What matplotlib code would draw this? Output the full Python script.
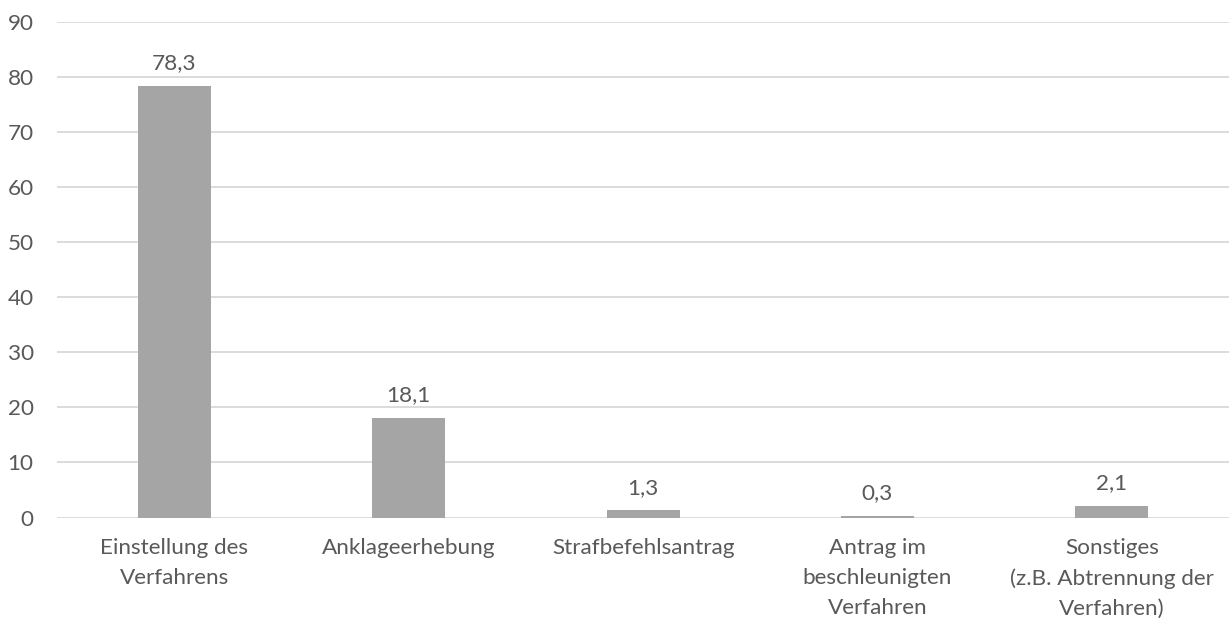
import matplotlib
matplotlib.use("Agg")
import matplotlib.pyplot as plt

categories = ["Einstellung des\nVerfahrens", "Anklageerhebung", "Strafbefehlsantrag",
              "Antrag im\nbeschleunigten\nVerfahren", "Sonstiges\n(z.B. Abtrennung der\nVerfahren)"]
values = [78.3, 18.1, 1.3, 0.3, 2.1]
yticks = [0, 10, 20, 30, 40, 50, 60, 70, 80, 90]

plt.rcParams['font.family'] = ['Lato', 'DejaVu Sans']
TXT = '#595959'
FS = 16.2

fig = plt.figure(figsize=(12.29, 6.19), dpi=100)
ax = fig.add_axes([57.3/1229, 1-517.5/619, 1-57.3/1229, (517.5-21.5)/619])

x = list(range(len(categories)))
bars = ax.bar(x, values, width=0.311, color='#A5A5A5', zorder=3)
for xi, v in zip(x, values):
    ax.annotate(f"{v:.1f}".replace('.', ','), (xi, v), xytext=(0, 9), textcoords='offset points',
                ha='center', va='bottom', fontsize=FS, color=TXT)

ax.set_xlim(-0.5, len(categories)-0.5)
ax.set_ylim(0, 90)
ax.set_yticks(yticks)
ax.set_yticklabels([str(t) for t in yticks])
ax.set_xticks(x)
ax.set_xticklabels(categories, linespacing=1.62)
ax.yaxis.grid(True, color='#D9D9D9', linewidth=1.3, zorder=0)
ax.set_axisbelow(True)
for s in ax.spines.values():
    s.set_visible(False)
ax.tick_params(axis='both', length=0, labelsize=FS, labelcolor=TXT)
ax.tick_params(axis='y', pad=17)
ax.tick_params(axis='x', pad=15)

fig.savefig('out.png', dpi=100)
